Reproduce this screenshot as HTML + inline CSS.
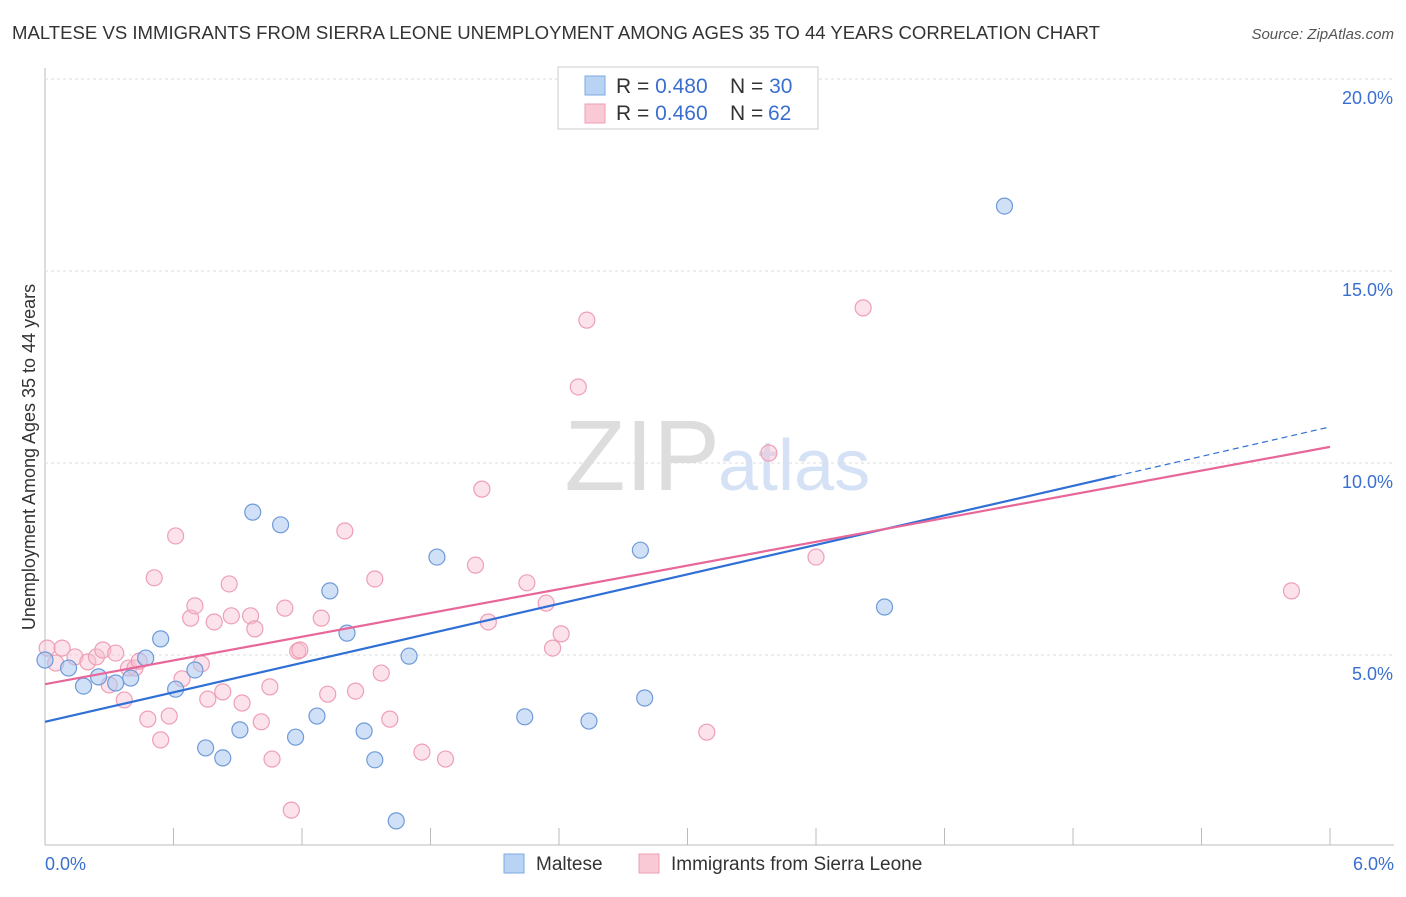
<!DOCTYPE html>
<html><head><meta charset="utf-8"><style>
body{margin:0;background:#fff;font-family:"Liberation Sans",sans-serif;}
svg text{font-family:"Liberation Sans",sans-serif;}
</style></head><body>
<svg id="c" width="1406" height="892" xmlns="http://www.w3.org/2000/svg">
<text x="12" y="39" font-size="18" fill="#333" textLength="1088" lengthAdjust="spacingAndGlyphs">MALTESE VS IMMIGRANTS FROM SIERRA LEONE UNEMPLOYMENT AMONG AGES 35 TO 44 YEARS CORRELATION CHART</text>
<text x="1394" y="39" font-size="15" fill="#555" text-anchor="end" font-style="italic">Source: ZipAtlas.com</text>
<text x="35" y="457" font-size="18" fill="#333" text-anchor="middle" transform="rotate(-90 35 457)">Unemployment Among Ages 35 to 44 years</text>
<text x="720" y="490" font-size="100" fill="#ddd" text-anchor="end" font-family="Liberation Serif">ZIP</text>
<text x="718" y="490" font-size="72" fill="#d5e2f5">atlas</text>
<g id="grid"></g><g id="pts"></g><g id="lines"></g>
<g>
<rect x="558" y="67" width="260" height="62" fill="#fff" stroke="#ccc"/>
<rect x="585" y="76" width="20" height="19" fill="#b9d3f5" stroke="#7fa8e0"/>
<rect x="585" y="104" width="20" height="19" fill="#f9c9d6" stroke="#ee9fb5"/>
<text x="616" y="93" font-size="21" fill="#333">R = <tspan fill="#3a6fd0">0.480</tspan><tspan x="730">N = </tspan><tspan fill="#3a6fd0">30</tspan></text>
<text x="616" y="120" font-size="21" fill="#333">R = <tspan fill="#3a6fd0">0.460</tspan><tspan x="730">N = </tspan><tspan x="768" fill="#3a6fd0">62</tspan></text>
</g>
<text x="45" y="870" font-size="18" fill="#3a6fd0">0.0%</text>
<text x="1394" y="870" font-size="18" fill="#3a6fd0" text-anchor="end">6.0%</text>
<rect x="504" y="854" width="20" height="19" fill="#b9d3f5" stroke="#7fa8e0"/>
<text x="536" y="870" font-size="19" fill="#333">Maltese</text>
<rect x="639" y="854" width="20" height="19" fill="#f9c9d6" stroke="#ee9fb5"/>
<text x="671" y="870" font-size="19" fill="#333">Immigrants from Sierra Leone</text>
</svg>
<script>
const yTicks=[5,10,15,20];
const yTickLabels=["5.0%","10.0%","15.0%","20.0%"];
const blueX=[0.00,0.11,0.18,0.25,0.33,0.40,0.47,0.54,0.61,0.70,0.75,0.83,0.91,0.97,1.10,1.17,1.27,1.33,1.41,1.49,1.54,1.64,1.70,1.83,2.24,2.54,2.78,2.80,3.92,4.48];
const blueY=[4.87,4.66,4.19,4.43,4.27,4.40,4.92,5.42,4.11,4.61,2.58,2.32,3.05,8.72,8.39,2.86,3.41,6.67,5.57,3.02,2.27,0.68,4.97,7.55,3.39,3.28,7.73,3.88,6.25,16.69];
const pinkX=[0.01,0.05,0.08,0.14,0.20,0.24,0.27,0.33,0.30,0.37,0.39,0.42,0.44,0.48,0.51,0.54,0.58,0.61,0.64,0.68,0.70,0.73,0.76,0.79,0.83,0.86,0.87,0.92,0.96,0.98,1.01,1.05,1.06,1.12,1.15,1.18,1.19,1.29,1.32,1.40,1.45,1.54,1.57,1.61,1.76,1.87,2.01,2.04,2.07,2.25,2.34,2.37,2.41,2.49,2.53,3.09,3.38,3.60,3.82,5.82];
const pinkY=[5.18,4.79,5.18,4.95,4.82,4.95,5.13,5.05,4.22,3.83,4.66,4.66,4.84,3.33,7.01,2.79,3.41,8.10,4.38,5.96,6.28,4.77,3.85,5.86,4.04,6.85,6.02,3.75,6.02,5.68,3.26,4.17,2.29,6.22,0.96,5.10,5.13,5.96,3.98,8.23,4.06,6.98,4.53,3.33,2.47,2.29,7.34,9.32,5.86,6.88,6.35,5.18,5.55,11.98,13.72,2.99,10.26,7.55,14.04,6.67];
const blueTrend=[3.26,10.94];
const pinkTrend=[4.24,10.42];
const NS="http://www.w3.org/2000/svg";
const sx=v=>45+v*214.17, sy=v=>847-v*38.4;
function mk(tag,a,p){const e=document.createElementNS(NS,tag);for(const k in a)e.setAttribute(k,a[k]);document.getElementById(p).appendChild(e);return e;}
let ax=mk('line',{x1:45,y1:68,x2:45,y2:845,stroke:'#bbb'},'grid');


let bx=mk('line',{x1:45,y1:845,x2:1394,y2:845,stroke:'#bbb'},'grid');


for(let i=0;i<=10;i++){const t=mk('line',{x1:sx(i*0.6),y1:828,x2:sx(i*0.6),y2:845,stroke:'#bbb'},'grid');

}
yTicks.forEach((v,i)=>{const g=mk('line',{x1:45,y1:sy(v),x2:1394,y2:sy(v),stroke:'#ddd','stroke-dasharray':'3,3'},'grid');


const t=mk('text',{x:1393,y:sy(v)+25,'font-size':18,fill:'#3a6fd0','text-anchor':'end'},'grid');t.textContent=yTickLabels[i];

});
const d0=mk('line',{x1:45,y1:79,x2:1394,y2:79,stroke:'#ddd','stroke-dasharray':'3,3'},'grid');


pinkX.forEach((x,i)=>{const c=mk('circle',{cx:sx(x),cy:sy(pinkY[i]),r:8,fill:'rgba(249,190,208,0.45)',stroke:'#ee9fb5','stroke-width':1.2},'pts');

});
blueX.forEach((x,i)=>{const c=mk('circle',{cx:sx(x),cy:sy(blueY[i]),r:8,fill:'rgba(170,200,240,0.55)',stroke:'#6f9ad8','stroke-width':1.2},'pts');

});
const bAt=x=>blueTrend[0]+(blueTrend[1]-blueTrend[0])*x/6;
let l1=mk('line',{x1:sx(0),y1:sy(bAt(0)),x2:sx(5),y2:sy(bAt(5)),stroke:'#2f6fd6','stroke-width':2.2},'lines');


let l2=mk('line',{x1:sx(5),y1:sy(bAt(5)),x2:sx(6),y2:sy(bAt(6)),stroke:'#2f6fd6','stroke-width':1.2,'stroke-dasharray':'6,4'},'lines');


let l3=mk('line',{x1:sx(0),y1:sy(pinkTrend[0]),x2:sx(6),y2:sy(pinkTrend[1]),stroke:'#e8679a','stroke-width':2.2},'lines');


</script>
</body></html>
